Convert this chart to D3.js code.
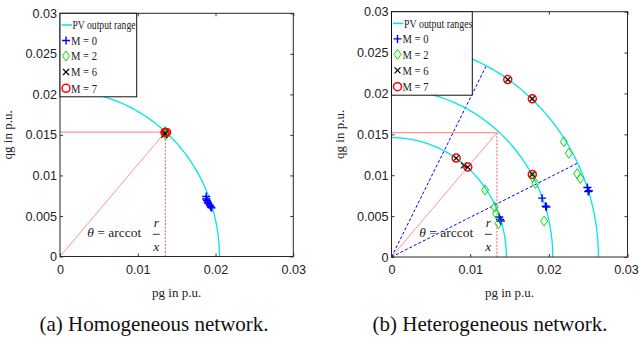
<!DOCTYPE html>
<html>
<head>
<meta charset="utf-8">
<script src="https://cdn.jsdelivr.net/npm/d3@7"></script>
<style>
  body { margin: 0; background: #fff; }
  svg { display: block; }
</style>
</head>
<body>
<script>
// ---- data ----
var axisTicksX = [0, 0.01, 0.02, 0.03];
var axisTicksY = [0, 0.005, 0.01, 0.015, 0.02, 0.025, 0.03];

// (a) homogeneous
var homRadii = [0.0205];
var homGuide = [0.01355, 0.01535];
var homM0 = [[0.0188, 0.0074], [0.0188, 0.0071], [0.0189, 0.0069], [0.0190, 0.0067],
             [0.0191, 0.0065], [0.0193, 0.0063], [0.0194, 0.0061], [0.0195, 0.0060]];
var homM2 = [[0.0135, 0.0154], [0.0137, 0.0152], [0.0136, 0.0150]];
var homM6 = [[0.0135, 0.0152], [0.0134, 0.0150]];
var homM7 = [[0.0135, 0.0153], [0.0137, 0.0153]];

// (b) heterogeneous
var hetRadii = [0.0146, 0.0205, 0.0263];
var hetGuide = [0.0134, 0.0152];
var hetDashEnds = [[0.0120, 0.0233], [0.0236, 0.01145]];
var hetM0 = [[0.01915, 0.0072], [0.0196, 0.0062], [0.0197, 0.0061],
             [0.0249, 0.0085], [0.0251, 0.0081], [0.0250, 0.0080],
             [0.0137, 0.0049], [0.0139, 0.0044], [0.0138, 0.0046]];
var hetM2 = [[0.0219, 0.0141], [0.02254, 0.0127], [0.0236, 0.0102], [0.0240, 0.0096],
             [0.0183, 0.0090], [0.0179, 0.0098], [0.0194, 0.0044], [0.0119, 0.0082],
             [0.0131, 0.0061], [0.0133, 0.0053], [0.0136, 0.0041]];
var hetM6 = [[0.01478, 0.0217], [0.0179, 0.01935], [0.00822, 0.0121], [0.0092, 0.0112],
             [0.0097, 0.0110], [0.0179, 0.0101]];
var hetM7 = [[0.01478, 0.0217], [0.0179, 0.01935], [0.00822, 0.0121],
             [0.0097, 0.0110], [0.0179, 0.0101]];

var legendNames = ["M = 0", "M = 2", "M = 6", "M = 7"];
var legendTypes = ["plus", "diamond", "cross", "circle"];

var svg = d3.select("body").append("svg")
  .attr("width", 639)
  .attr("height", 343);

var serif = "'Liberation Serif', 'Times New Roman', serif";
var sans = "'Liberation Sans', Arial, sans-serif";

// draws one marker shape at (px, py)
function drawMarker(g, type, px, py) {
  if (type == "plus") {
    g.append("path").attr("d", `M${px - 4},${py}H${px + 4}M${px},${py - 4}V${py + 4}`)
      .attr("stroke", "#0000ff").attr("stroke-width", 1.4).attr("fill", "none");
  } else if (type == "diamond") {
    g.append("path").attr("d", `M${px},${py - 5}L${px + 3.5},${py}L${px},${py + 5}L${px - 3.5},${py}Z`)
      .attr("stroke", "#00e000").attr("stroke-width", 1).attr("fill", "none");
  } else if (type == "cross") {
    g.append("path").attr("d", `M${px - 3},${py - 3}L${px + 3},${py + 3}M${px - 3},${py + 3}L${px + 3},${py - 3}`)
      .attr("stroke", "#000").attr("stroke-width", 1.2).attr("fill", "none");
  } else {
    g.append("circle").attr("cx", px).attr("cy", py).attr("r", 4)
      .attr("stroke", "#ff0000").attr("stroke-width", 1.5).attr("fill", "none");
  }
}

function drawPanel(opt) {
  var x = d3.scaleLinear().domain([0, 0.03]).range([opt.left, opt.right]);
  var y = d3.scaleLinear().domain([0, 0.03]).range([opt.bottom, opt.top]);
  var g = svg.append("g");
  var fmt = d => d === 0 ? "0" : String(d);

  // axes, ticks pointing inwards
  var bx = g.append("g").attr("transform", `translate(0,${opt.bottom})`)
    .call(d3.axisBottom(x).tickValues(axisTicksX).tickFormat(fmt).tickSize(-3).tickPadding(8.5));
  var by = g.append("g").attr("transform", `translate(${opt.left},0)`)
    .call(d3.axisLeft(y).tickValues(axisTicksY).tickFormat(fmt).tickSize(-3).tickPadding(3));
  g.append("g").attr("transform", `translate(0,${opt.top})`)
    .call(d3.axisTop(x).tickValues(axisTicksX).tickFormat("").tickSize(-3));
  g.append("g").attr("transform", `translate(${opt.right},0)`)
    .call(d3.axisRight(y).tickValues(axisTicksY).tickFormat("").tickSize(-3));
  g.selectAll(".domain").remove();
  g.selectAll(".tick line").attr("stroke", "#333");
  g.selectAll(".tick text").attr("font-family", sans).attr("font-size", 12.6).attr("fill", "#222");
  // last x label sits right at the page edge
  bx.selectAll(".tick text").filter(d => d === 0.03).attr("dx", opt.lastDx || 0);

  // guide lines
  var p = opt.guide;
  g.append("line").attr("x1", x(0)).attr("y1", y(p[1])).attr("x2", x(p[0])).attr("y2", y(p[1]))
    .attr("stroke", "#ff5555").attr("stroke-width", 0.8);
  g.append("line").attr("x1", x(0)).attr("y1", y(0)).attr("x2", x(p[0])).attr("y2", y(p[1]))
    .attr("stroke", "#ff7777").attr("stroke-width", 0.8);
  g.append("line").attr("x1", x(p[0])).attr("y1", y(p[1])).attr("x2", x(p[0])).attr("y2", y(0))
    .attr("stroke", "#ff3333").attr("stroke-width", 0.8).attr("stroke-dasharray", "2,1.5");

  (opt.dashEnds || []).forEach(function (e) {
    g.append("line").attr("x1", x(0)).attr("y1", y(0)).attr("x2", x(e[0])).attr("y2", y(e[1]))
      .attr("stroke", "#0000ff").attr("stroke-width", 1).attr("stroke-dasharray", "3,2");
  });

  // PV output range arcs
  var arc = d3.line().x(d => x(d[0])).y(d => y(d[1]));
  opt.radii.forEach(function (r) {
    var pts = d3.range(0, 91).map(a => [r * Math.cos(a * Math.PI / 180), r * Math.sin(a * Math.PI / 180)]);
    g.append("path").attr("d", arc(pts)).attr("fill", "none")
      .attr("stroke", "#00e5ee").attr("stroke-width", 1.3);
  });

  // markers
  [opt.m0, opt.m2, opt.m6, opt.m7].forEach(function (set, i) {
    set.forEach(d => drawMarker(g, legendTypes[i], x(d[0]), y(d[1])));
  });

  // box
  g.append("rect").attr("x", opt.left).attr("y", opt.top)
    .attr("width", opt.right - opt.left).attr("height", opt.bottom - opt.top)
    .attr("fill", "none").attr("stroke", "#262626").attr("stroke-width", 1);

  // theta label
  var t = g.append("g").attr("font-family", serif).attr("fill", "#222");
  t.append("text").attr("x", opt.thetaX).attr("y", 237).attr("font-size", 13.5)
    .html("<tspan font-style='italic'>θ</tspan> = arccot");
  var fx = opt.thetaX + 69;
  t.append("text").attr("x", fx).attr("y", 227).attr("font-size", 13.5)
    .attr("font-style", "italic").attr("text-anchor", "middle").text("r");
  t.append("line").attr("x1", fx - 3.5).attr("x2", fx + 3.5).attr("y1", 234.3).attr("y2", 234.3)
    .attr("stroke", "#222").attr("stroke-width", 0.9);
  t.append("text").attr("x", fx).attr("y", 251).attr("font-size", 13.5)
    .attr("font-style", "italic").attr("text-anchor", "middle").text("x");

  // legend
  var lg = g.append("g");
  lg.append("rect").attr("x", opt.left).attr("y", opt.top)
    .attr("width", opt.legendW).attr("height", 83.5)
    .attr("fill", "#fff").attr("stroke", "#111").attr("stroke-width", 1);
  var rowY = [11.7, 27.2, 42.7, 58.7, 75].map(v => opt.top + v);
  var mx = opt.left + 6;
  lg.append("line").attr("x1", opt.left + 1.5).attr("x2", opt.left + 12)
    .attr("y1", rowY[0]).attr("y2", rowY[0]).attr("stroke", "#00e5ee").attr("stroke-width", 1.5);
  lg.append("text").attr("x", opt.left + 12.5).attr("y", rowY[0] + 4.3)
    .attr("font-family", serif).attr("font-size", 12.5).attr("fill", "#222")
    .attr("textLength", opt.pvW).attr("lengthAdjust", "spacingAndGlyphs").text(opt.pvName);
  legendNames.forEach(function (name, i) {
    drawMarker(lg, legendTypes[i], mx, rowY[i + 1]);
    lg.append("text").attr("x", opt.left + 11).attr("y", rowY[i + 1] + 4.3)
      .attr("font-family", serif).attr("font-size", 12.5).attr("fill", "#222")
      .attr("textLength", 26).attr("lengthAdjust", "spacingAndGlyphs").text(name);
  });

  // axis titles
  var cx = (opt.left + opt.right) / 2, cy = (opt.top + opt.bottom) / 2;
  g.append("text").attr("x", cx).attr("y", 297).attr("text-anchor", "middle")
    .attr("font-family", serif).attr("font-size", 13).attr("fill", "#222").text("pg in p.u.");
  g.append("text").attr("transform", `translate(${opt.left - 48},${cy}) rotate(-90)`)
    .attr("text-anchor", "middle").attr("font-family", serif).attr("font-size", 13)
    .attr("fill", "#222").text("qg in p.u.");

  // caption
  g.append("text").attr("x", opt.capX).attr("y", 331).attr("text-anchor", "middle")
    .attr("font-family", serif).attr("font-size", 21).attr("fill", "#111").text(opt.caption);
}

drawPanel({
  left: 60, right: 293.3, top: 13.3, bottom: 256.5,
  radii: homRadii, guide: homGuide,
  m0: homM0, m2: homM2, m6: homM6, m7: homM7,
  thetaX: 87.3, legendW: 76.7, pvName: "PV output range", pvW: 63,
  capX: 154, caption: "(a) Homogeneous network."
});

drawPanel({
  left: 391.5, right: 627.5, top: 11.7, bottom: 257,
  radii: hetRadii, guide: hetGuide, dashEnds: hetDashEnds,
  m0: hetM0, m2: hetM2, m6: hetM6, m7: hetM7,
  thetaX: 419.3, legendW: 80.8, pvName: "PV output ranges", pvW: 68.5,
  capX: 490, caption: "(b) Heterogeneous network.", lastDx: -1.5
});
</script>
</body>
</html>
